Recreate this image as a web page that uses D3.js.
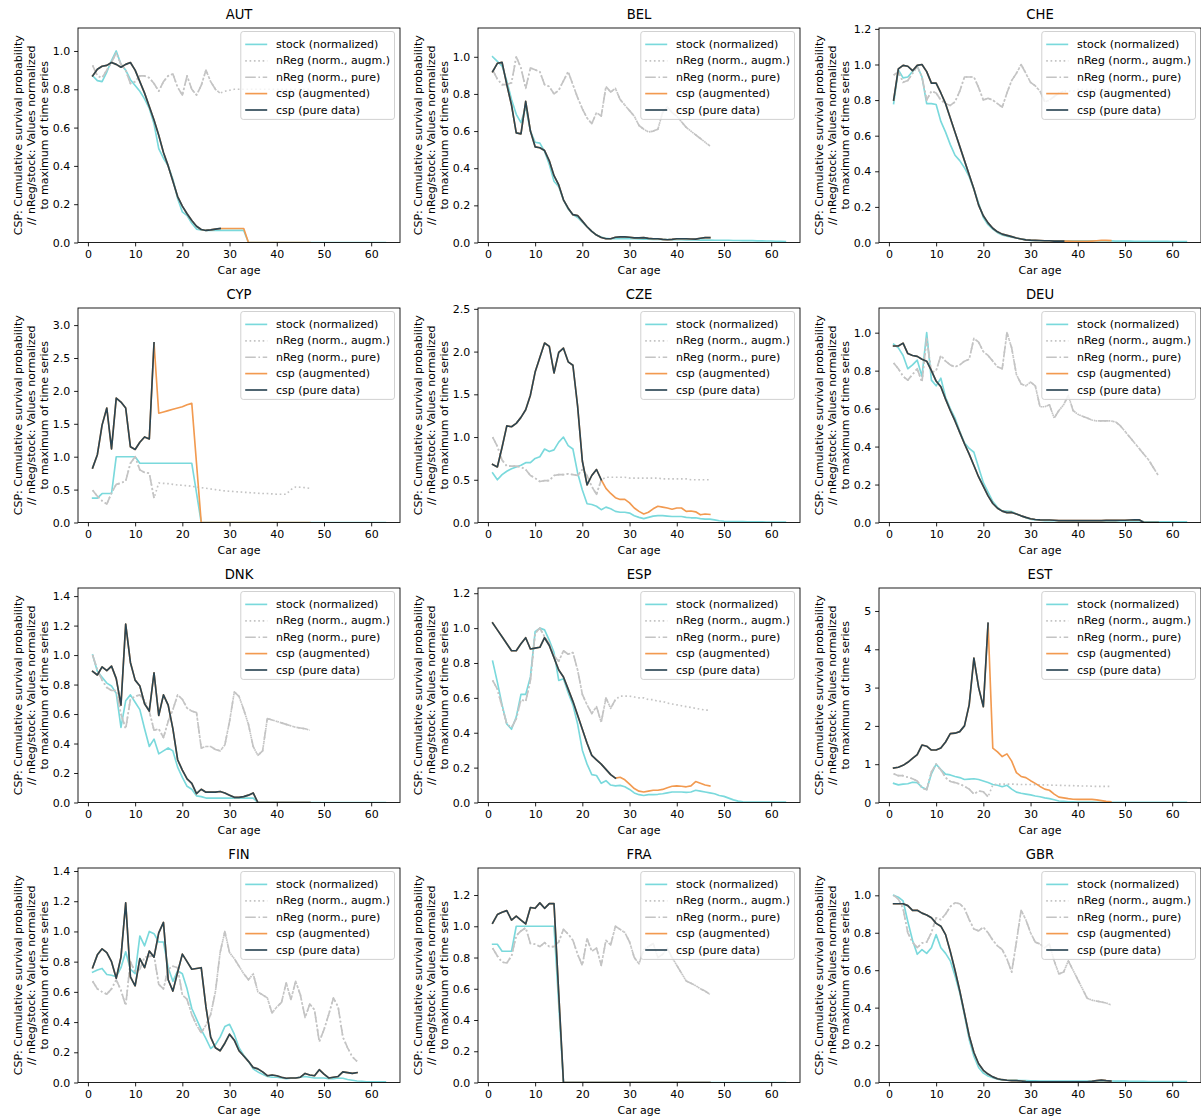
<!DOCTYPE html>
<html>
<head>
<meta charset="utf-8">
<script src="https://cdn.jsdelivr.net/npm/d3@7"></script>
<style>
  body { margin: 0; background: #fff; }
  svg { display: block; font-family: "DejaVu Sans", sans-serif; }
</style>
</head>
<body>
<svg id="chart" width="1201" height="1120"></svg>
<script>
// ---- panel setup -------------------------------------------------------
const countries = ["AUT", "BEL", "CHE", "CYP", "CZE", "DEU", "DNK", "ESP", "EST", "FIN", "FRA", "GBR"];
const yMax  = [1.12, 1.155, 1.205, 3.26, 2.51, 1.13, 1.455, 1.23, 5.6, 1.42, 1.373, 1.146];
const yStep = [0.2, 0.2, 0.2, 0.5, 0.5, 0.2, 0.2, 0.2, 1, 0.2, 0.2, 0.2];
const xTicks = [0, 10, 20, 30, 40, 50, 60];
const seriesLabels = ["stock (normalized)", "nReg (norm., augm.)", "nReg (norm., pure)", "csp (augmented)", "csp (pure data)"];
const yLabelLines = ["CSP: Cumulative survival probability", "// nReg/stock: Values normalized", "to maximum of time series"];
const xLabel = "Car age";

// ---- data: every series starts at car age 1; *Tail arrays continue the pure series ----
// AUT
const AUT_stock = [0.87,0.845,0.84,0.89,0.95,1.0,0.93,0.90,0.85,0.82, 0.79,0.75,0.70,0.62,0.49,0.44,0.40,0.33,0.23,0.16, 0.14,0.10,0.07,0.065,0.063,0.063,0.063,0.063,0.063,0.063, 0.063,0.063,0.063,0,0,0,0,0,0,0, 0,0,0,0,0,0,0,0,0,0, 0,0,0,0,0,0,0,0,0,0, 0,0,0];
const AUT_nreg = [0.925,0.87,0.86,0.90,0.94,0.99,0.93,0.90,0.83,0.84, 0.87,0.87,0.86,0.83,0.79,0.84,0.87,0.88,0.81,0.77, 0.87,0.80,0.77,0.82,0.90,0.84,0.80,0.78];
const AUT_nregTail = [0.79,0.795,0.80,0.80,0.80,0.80,0.80,0.80,0.80,0.80, 0.80,0.80,0.80,0.80,0.80,0.80,0.80,0.80,0.80];
const AUT_csp = [0.87,0.905,0.92,0.925,0.94,0.93,0.915,0.93,0.94,0.90, 0.84,0.78,0.71,0.64,0.56,0.47,0.40,0.32,0.24,0.19, 0.15,0.115,0.085,0.068,0.063,0.066,0.07,0.073];
const AUT_cspTail = [0.073,0.073,0.073,0.073,0.073,0,0,0,0,0, 0,0,0,0,0,0,0,0,0];
// BEL
const BEL_stock = [1.0,0.975,0.95,0.87,0.77,0.69,0.645,0.73,0.60,0.54, 0.535,0.49,0.42,0.33,0.30,0.23,0.18,0.15,0.135,0.11, 0.085,0.06,0.04,0.03,0.022,0.02,0.02,0.02,0.02,0.02, 0.02,0.019,0.018,0.018,0.017,0.017,0.016,0.016,0.015,0.015, 0.015,0.014,0.014,0.014,0.013,0.013,0.013,0.012,0.012,0.012, 0.012,0.011,0.011,0.01,0.01,0.01,0.009,0.009,0.008,0.008, 0.007,0.006,0.005];
const BEL_nreg = [0.93,0.88,0.85,0.85,0.86,1.0,0.94,0.83,0.94,0.93, 0.92,0.85,0.84,0.80,0.82,0.87,0.92,0.85,0.78,0.72, 0.67,0.64,0.70,0.68,0.84,0.81,0.83,0.77,0.74,0.71, 0.68,0.63,0.61,0.595,0.60,0.61,0.70,0.73,0.70,0.68, 0.65,0.62,0.60,0.58,0.56,0.54,0.52];
const BEL_nregTail = [];
const BEL_csp = [0.92,0.965,0.97,0.85,0.74,0.59,0.585,0.76,0.60,0.515, 0.51,0.495,0.44,0.36,0.31,0.23,0.185,0.15,0.145,0.115, 0.085,0.06,0.04,0.027,0.02,0.02,0.028,0.03,0.03,0.028, 0.025,0.025,0.026,0.022,0.02,0.02,0.017,0.015,0.017,0.02, 0.02,0.02,0.019,0.018,0.023,0.026,0.026];
const BEL_cspTail = [];
// CHE
const CHE_stock = [0.78,0.97,0.925,0.93,0.96,0.99,0.93,0.78,0.78,0.775, 0.68,0.62,0.55,0.49,0.46,0.42,0.37,0.30,0.22,0.14, 0.10,0.075,0.055,0.042,0.035,0.03,0.025,0.02,0.015,0.012, 0.011,0.01,0.01,0.01,0.01,0.01,0.01,0.009,0.009,0.009, 0.009,0.009,0.009,0.009,0.009,0.009,0.009,0.008,0.008,0.008, 0.008,0.007,0.007,0.007,0.007,0.006,0.006,0.006,0.006,0.005, 0.005,0.005,0.005];
const CHE_nreg = [0.94,0.96,0.90,0.91,0.95,0.99,0.93,0.80,0.85,0.84, 0.80,0.78,0.77,0.79,0.85,0.93,0.93,0.93,0.87,0.80, 0.81,0.80,0.78,0.76,0.84,0.91,0.95,1.0,0.95,0.90, 0.88,0.85,0.79,0.80,0.82,0.84,0.85];
const CHE_nregTail = [0.85,0.85,0.86,0.86,0.86,0.86,0.86,0.86,0.86,0.86];
const CHE_csp = [0.80,0.975,0.995,0.99,0.965,0.995,1.0,0.96,0.895,0.895, 0.84,0.78,0.70,0.62,0.54,0.46,0.38,0.30,0.21,0.15, 0.11,0.08,0.06,0.047,0.04,0.033,0.025,0.02,0.015,0.013, 0.012,0.011,0.01,0.01,0.008,0.008,0.008];
const CHE_cspTail = [0.008,0.007,0.006,0.006,0.006,0.008,0.01,0.012,0.012,0.011];
// CYP
const CYP_stock = [0.37,0.37,0.44,0.44,0.44,1.0,1.0,1.0,1.0,1.0, 0.90,0.90,0.90,0.90,0.90,0.90,0.90,0.90,0.90,0.90, 0.90,0.90,0.45,0,0,0,0,0,0,0, 0,0,0,0,0,0,0,0,0,0, 0,0,0,0,0,0,0,0,0,0, 0,0,0,0,0,0,0,0,0,0, 0,0,0];
const CYP_nreg = [0.49,0.40,0.33,0.28,0.45,0.58,0.60,0.63,0.90,1.0, 0.80,0.76,0.75,0.37];
const CYP_nregTail = [0.60,0.595,0.59,0.58,0.57,0.565,0.56,0.55,0.54,0.53, 0.52,0.51,0.50,0.49,0.48,0.475,0.47,0.465,0.46,0.455, 0.45,0.445,0.44,0.44,0.435,0.43,0.43,0.43,0.50,0.54, 0.535,0.53,0.52];
const CYP_csp = [0.83,1.03,1.48,1.74,1.12,1.89,1.83,1.74,1.15,1.11, 1.22,1.30,1.27,2.73];
const CYP_cspTail = [1.66,1.68,1.70,1.72,1.74,1.76,1.79,1.81,0.9,0, 0,0,0,0,0,0,0,0,0,0, 0,0,0,0,0,0,0,0,0,0, 0,0,0];
// CZE
const CZE_stock = [0.58,0.50,0.56,0.60,0.63,0.65,0.67,0.70,0.70,0.75, 0.77,0.86,0.83,0.85,0.94,1.0,0.90,0.86,0.58,0.38, 0.22,0.21,0.19,0.15,0.18,0.16,0.13,0.12,0.12,0.11, 0.08,0.06,0.045,0.06,0.075,0.08,0.08,0.075,0.07,0.07, 0.07,0.06,0.055,0.055,0.045,0.04,0.04,0.03,0.02,0.015, 0.012,0.01,0.01,0.01,0.008,0.008,0.007,0.007,0.006,0.006, 0.005,0.005,0.005];
const CZE_nreg = [1.0,0.89,0.73,0.66,0.66,0.66,0.65,0.62,0.55,0.52, 0.48,0.49,0.49,0.55,0.56,0.56,0.57,0.56,0.55,0.62, 0.55,0.42,0.33,0.50];
const CZE_nregTail = [0.53,0.53,0.53,0.53,0.53,0.52,0.52,0.52,0.52,0.52, 0.52,0.52,0.51,0.51,0.51,0.51,0.51,0.51,0.50,0.50, 0.50,0.50,0.50];
const CZE_csp = [0.68,0.65,0.88,1.13,1.12,1.16,1.23,1.32,1.49,1.76, 1.93,2.10,2.06,1.75,1.99,2.04,1.88,1.84,1.36,0.72, 0.44,0.55,0.62,0.50];
const CZE_cspTail = [0.40,0.34,0.29,0.27,0.27,0.23,0.17,0.13,0.10,0.12, 0.16,0.19,0.18,0.17,0.155,0.17,0.17,0.13,0.135,0.125, 0.09,0.10,0.095];
// DEU
const DEU_stock = [0.94,0.92,0.88,0.81,0.83,0.855,0.77,1.0,0.75,0.72, 0.76,0.66,0.60,0.55,0.48,0.42,0.39,0.37,0.29,0.21, 0.16,0.11,0.08,0.06,0.06,0.058,0.045,0.035,0.025,0.018, 0.014,0.012,0.01,0.01,0.009,0.009,0.009,0.008,0.008,0.008, 0.008,0.008,0.008,0.008,0.008,0.008,0.008,0.008,0.008,0.008, 0.008,0.008,0.008,0.005,0.004,0.004,0.003,0.003,0.003,0.003, 0.003,0.003,0.003];
const DEU_nreg = [0.84,0.81,0.77,0.75,0.78,0.81,0.74,0.97,0.79,0.80, 0.88,0.85,0.83,0.82,0.83,0.85,0.86,0.97,0.95,0.90, 0.88,0.85,0.82,0.81,1.0,0.92,0.78,0.73,0.72,0.74, 0.72,0.61,0.61,0.62,0.55,0.59,0.62,0.67,0.59,0.57, 0.56,0.55,0.54,0.535,0.535,0.535,0.535,0.53,0.51,0.48, 0.45,0.42,0.39,0.36,0.33,0.29,0.25];
const DEU_nregTail = [];
const DEU_csp = [0.93,0.93,0.945,0.89,0.88,0.875,0.86,0.85,0.80,0.745, 0.715,0.65,0.59,0.535,0.475,0.415,0.36,0.30,0.24,0.19, 0.14,0.10,0.075,0.06,0.052,0.053,0.045,0.035,0.027,0.02, 0.016,0.014,0.013,0.013,0.012,0.01,0.01,0.01,0.01,0.01, 0.01,0.01,0.01,0.01,0.01,0.011,0.011,0.011,0.012,0.012, 0.013,0.014,0.014,0,0,0,0];
const DEU_cspTail = [];
// DNK
const DNK_stock = [1.0,0.89,0.85,0.81,0.79,0.74,0.51,0.69,0.73,0.68, 0.63,0.50,0.38,0.43,0.33,0.35,0.37,0.35,0.24,0.17, 0.11,0.09,0.045,0.04,0.03,0.03,0.03,0.03,0.03,0.03, 0.03,0.03,0.03,0.03,0.03,0,0,0,0,0, 0,0,0,0,0,0,0,0,0,0, 0,0,0,0,0,0,0,0,0,0, 0,0,0];
const DNK_nreg = [1.0,0.90,0.83,0.78,0.76,0.76,0.60,0.50,0.70,0.72, 0.73,0.69,0.62,0.49,0.50,0.44,0.55,0.63,0.73,0.70, 0.64,0.62,0.61,0.37,0.38,0.38,0.36,0.35,0.39,0.55, 0.75,0.72,0.63,0.53,0.38,0.32,0.35,0.57,0.56,0.55, 0.54,0.53,0.52,0.51,0.505,0.50,0.49];
const DNK_nregTail = [];
const DNK_csp = [0.89,0.865,0.92,0.895,0.925,0.84,0.66,1.21,0.95,0.83, 0.79,0.67,0.62,0.88,0.59,0.73,0.66,0.50,0.29,0.22, 0.16,0.13,0.06,0.09,0.07,0.07,0.07,0.075,0.065,0.05, 0.035,0.035,0.04,0.05,0.065,0,0,0,0,0, 0,0,0,0,0,0,0];
const DNK_cspTail = [];
// ESP
const ESP_stock = [0.81,0.69,0.56,0.45,0.42,0.49,0.62,0.62,0.72,0.98, 1.0,0.99,0.93,0.86,0.70,0.71,0.63,0.56,0.45,0.30, 0.22,0.16,0.155,0.11,0.125,0.10,0.095,0.098,0.09,0.075, 0.055,0.045,0.04,0.045,0.045,0.047,0.05,0.055,0.06,0.06, 0.06,0.058,0.06,0.07,0.065,0.06,0.055,0.05,0.04,0.035, 0.025,0.015,0.008,0.004,0.002,0.002,0.002,0.002,0.002,0.002, 0.002,0.002,0.002];
const ESP_nreg = [0.70,0.65,0.55,0.45,0.43,0.48,0.59,0.58,0.70,0.97, 1.0,0.95,0.91,0.84,0.81,0.87,0.85,0.86,0.76,0.62, 0.56,0.51,0.55,0.46,0.60,0.54,0.59];
const ESP_nregTail = [0.61,0.61,0.61,0.605,0.60,0.60,0.59,0.59,0.58,0.58, 0.57,0.565,0.56,0.555,0.55,0.545,0.54,0.535,0.53,0.53];
const ESP_csp = [1.03,0.99,0.95,0.91,0.87,0.87,0.91,0.945,0.88,0.885, 0.89,0.945,0.90,0.83,0.76,0.72,0.65,0.58,0.50,0.42, 0.34,0.27,0.245,0.22,0.19,0.16,0.14];
const ESP_cspTail = [0.145,0.13,0.105,0.08,0.065,0.06,0.065,0.07,0.07,0.075, 0.085,0.093,0.095,0.093,0.09,0.095,0.12,0.11,0.10,0.095];
// EST
const EST_stock = [0.50,0.46,0.48,0.49,0.53,0.52,0.40,0.34,0.75,1.0, 0.86,0.74,0.72,0.68,0.65,0.60,0.61,0.62,0.60,0.56, 0.52,0.47,0.45,0.41,0.45,0.35,0.27,0.24,0.22,0.20, 0.17,0.15,0.12,0.10,0.07,0.04,0.03,0.02,0.015,0.01, 0.01,0.008,0.008,0.007,0.007,0.006,0.006,0.006,0.005,0.005, 0.005,0.005,0.005,0.005,0.005,0.005,0.005,0.005,0.005,0.005, 0.005,0.005,0.005];
const EST_nreg = [0.75,0.70,0.70,0.66,0.62,0.56,0.38,0.33,0.80,1.0, 0.85,0.65,0.55,0.52,0.48,0.42,0.35,0.22,0.30,0.28, 0.15];
const EST_nregTail = [0.46,0.48,0.48,0.48,0.48,0.475,0.47,0.47,0.47,0.465, 0.46,0.46,0.455,0.45,0.45,0.445,0.44,0.44,0.435,0.43, 0.43,0.425,0.42,0.42,0.42,0.42];
const EST_csp = [0.90,0.92,0.97,1.05,1.15,1.25,1.50,1.47,1.37,1.37, 1.42,1.58,1.80,1.81,1.85,2.00,2.55,3.77,3.00,2.50, 4.68];
const EST_cspTail = [1.42,1.32,1.20,1.27,1.08,0.78,0.68,0.65,0.57,0.50, 0.42,0.35,0.32,0.22,0.14,0.12,0.10,0.085,0.08,0.08, 0.08,0.08,0.07,0.05,0.03,0.02];
// FIN
const FIN_stock = [0.73,0.745,0.755,0.715,0.71,0.70,0.76,0.865,0.75,0.72, 0.97,0.905,1.0,0.985,0.93,0.93,0.76,0.67,0.74,0.72, 0.62,0.49,0.42,0.35,0.29,0.225,0.25,0.30,0.37,0.385, 0.32,0.23,0.18,0.14,0.09,0.07,0.055,0.04,0.035,0.035, 0.03,0.025,0.028,0.03,0.035,0.04,0.035,0.03,0.03,0.03, 0.025,0.025,0.03,0.028,0.02,0.015,0.01,0.008,0.005,0.005, 0.005,0.005,0.005];
const FIN_nreg = [0.67,0.62,0.60,0.585,0.62,0.68,0.61,0.51,0.80,0.73, 0.75,0.83,0.835,0.84,0.65,0.62,0.75,0.77,0.76,0.58, 0.55,0.45,0.38,0.33,0.38,0.45,0.60,0.86,1.0,0.86, 0.82,0.77,0.72,0.68,0.72,0.60,0.58,0.56,0.46,0.50, 0.53,0.66,0.55,0.67,0.58,0.43,0.52,0.48,0.27,0.35, 0.45,0.56,0.50,0.30,0.23,0.17,0.14];
const FIN_nregTail = [];
const FIN_csp = [0.76,0.845,0.885,0.86,0.80,0.69,0.83,1.19,0.70,0.64, 0.82,0.76,0.87,0.83,0.99,1.06,0.68,0.605,0.73,0.85, 0.80,0.75,0.755,0.76,0.50,0.30,0.23,0.21,0.26,0.32, 0.28,0.21,0.175,0.14,0.10,0.09,0.07,0.045,0.05,0.045, 0.035,0.028,0.03,0.03,0.035,0.06,0.05,0.045,0.085,0.055, 0.03,0.035,0.04,0.07,0.065,0.06,0.065];
const FIN_cspTail = [];
// FRA
const FRA_stock = [0.885,0.885,0.84,0.84,0.84,1.0,1.0,1.0,1.0,1.0, 1.0,1.0,1.0,1.0,0.5,0,0,0,0,0, 0,0,0,0,0,0,0,0,0,0, 0,0,0,0,0,0,0,0,0,0, 0,0,0,0,0,0,0,0,0,0, 0,0,0,0,0,0,0,0,0,0, 0,0,0];
const FRA_nreg = [0.86,0.81,0.77,0.765,0.81,0.94,0.97,0.99,0.89,0.885, 0.87,0.895,0.87,0.87,0.90,0.98,0.95,0.91,0.82,0.75, 0.92,0.84,0.86,0.75,0.91,0.88,1.0,0.98,0.96,0.90, 0.80,0.76,0.85,0.87,0.89,0.80,0.82,0.86,0.80,0.75, 0.70,0.65,0.635,0.62,0.60,0.585,0.565];
const FRA_nregTail = [];
const FRA_csp = [1.02,1.075,1.09,1.10,1.04,1.065,1.04,1.015,1.12,1.115, 1.15,1.115,1.145,1.145,0.57,0,0,0,0,0, 0,0,0,0,0,0,0,0,0,0, 0,0,0,0,0,0,0,0,0,0, 0,0,0,0,0,0,0];
const FRA_cspTail = [];
// GBR
const GBR_stock = [1.0,0.99,0.97,0.86,0.76,0.685,0.71,0.69,0.72,0.79, 0.72,0.69,0.65,0.57,0.48,0.36,0.23,0.14,0.08,0.05, 0.035,0.025,0.018,0.014,0.012,0.012,0.011,0.01,0.01,0.009, 0.009,0.008,0.008,0.008,0.008,0.008,0.008,0.008,0.008,0.008, 0.008,0.008,0.008,0.008,0.008,0.008,0.008,0.007,0.007,0.007, 0.006,0.006,0.006,0.006,0.005,0.005,0.005,0.005,0.005,0.005, 0.005,0.005,0.005];
const GBR_nreg = [1.0,0.98,0.93,0.80,0.75,0.72,0.745,0.75,0.80,0.88, 0.87,0.90,0.94,0.96,0.955,0.93,0.87,0.82,0.81,0.83, 0.80,0.76,0.73,0.71,0.66,0.59,0.75,0.92,0.87,0.80, 0.75,0.74,0.72,0.74,0.65,0.58,0.59,0.65,0.60,0.55, 0.50,0.45,0.44,0.435,0.43,0.425,0.415];
const GBR_nregTail = [];
const GBR_csp = [0.955,0.955,0.955,0.945,0.92,0.92,0.905,0.895,0.88,0.85, 0.835,0.79,0.70,0.60,0.49,0.37,0.25,0.16,0.10,0.065, 0.045,0.03,0.02,0.015,0.012,0.01,0.01,0.008,0.005,0.004, 0.004,0.004,0.004,0.004,0.004,0.004,0.004,0.004,0.004,0.004, 0.004,0.004,0.006,0.01,0.013,0.01,0.008];
const GBR_cspTail = [];

// lookup table built from the arrays above
const panelData = {
  AUT: [AUT_stock, AUT_nreg, AUT_nregTail, AUT_csp, AUT_cspTail],
  BEL: [BEL_stock, BEL_nreg, BEL_nregTail, BEL_csp, BEL_cspTail],
  CHE: [CHE_stock, CHE_nreg, CHE_nregTail, CHE_csp, CHE_cspTail],
  CYP: [CYP_stock, CYP_nreg, CYP_nregTail, CYP_csp, CYP_cspTail],
  CZE: [CZE_stock, CZE_nreg, CZE_nregTail, CZE_csp, CZE_cspTail],
  DEU: [DEU_stock, DEU_nreg, DEU_nregTail, DEU_csp, DEU_cspTail],
  DNK: [DNK_stock, DNK_nreg, DNK_nregTail, DNK_csp, DNK_cspTail],
  ESP: [ESP_stock, ESP_nreg, ESP_nregTail, ESP_csp, ESP_cspTail],
  EST: [EST_stock, EST_nreg, EST_nregTail, EST_csp, EST_cspTail],
  FIN: [FIN_stock, FIN_nreg, FIN_nregTail, FIN_csp, FIN_cspTail],
  FRA: [FRA_stock, FRA_nreg, FRA_nregTail, FRA_csp, FRA_cspTail],
  GBR: [GBR_stock, GBR_nreg, GBR_nregTail, GBR_csp, GBR_cspTail]
};

// ---- styles ------------------------------------------------------------
const LW = 1.65;
const styles = [
  { color: "#7ad9dc", dash: null },                                       // stock
  { color: "#c4c4c4", dash: `${LW},${2.7}` },                             // nReg augmented (dotted)
  { color: "#c4c4c4", dash: `${6.4 * LW},${1.6 * LW},${LW},${1.6 * LW}` },  // nReg pure (dash-dot)
  { color: "#f29a50", dash: null },                                       // csp augmented
  { color: "#2a4553", dash: null }                                        // csp pure
];

const svg = d3.select("#chart");
const colLeft = [78, 478, 879];
const colWidth = 322;
const rowTop = [28, 308, 588, 868];
const rowHeight = 214.5;
const xDomain = [-2.1, 66.1];
const tickLen = 3.9, tickPad = 3.9;
const fontTick = 11, fontTitle = 13.2;

const toPoints = arr => arr.map((v, i) => [i + 1, v]);

countries.forEach((country, i) => {
  const col = i % 3, row = Math.floor(i / 3);
  const left = colLeft[col], top = rowTop[row];
  const right = left + colWidth, bottom = top + rowHeight;

  const x = d3.scaleLinear().domain(xDomain).range([left, right]);
  const y = d3.scaleLinear().domain([0, yMax[i]]).range([bottom, top]);

  const [stock, nreg, nregTail, csp, cspTail] = panelData[country];
  const series = [
    toPoints(stock),
    toPoints(nreg.concat(nregTail)),
    toPoints(nreg),
    toPoints(csp.concat(cspTail)),
    toPoints(csp)
  ];

  const g = svg.append("g");
  const clipId = "clip-" + country;
  g.append("clipPath").attr("id", clipId)
    .append("rect").attr("x", left).attr("y", top)
    .attr("width", colWidth).attr("height", rowHeight);

  const line = d3.line().x(d => x(d[0])).y(d => y(d[1]));
  const lines = g.append("g").attr("clip-path", `url(#${clipId})`);
  series.forEach((pts, k) => {
    lines.append("path")
      .attr("d", line(pts))
      .attr("fill", "none")
      .attr("stroke", styles[k].color)
      .attr("stroke-width", LW)
      .attr("stroke-linejoin", "round")
      .attr("stroke-linecap", styles[k].dash ? "butt" : "square")
      .attr("stroke-dasharray", styles[k].dash);
  });

  // axes
  const yTicks = d3.range(0, yMax[i] + 1e-9, yStep[i]).map(v => +v.toFixed(3));
  const yFmt = yStep[i] >= 1 ? d3.format("d") : d3.format(".1f");

  const xAxis = d3.axisBottom(x).tickValues(xTicks).tickSize(tickLen).tickPadding(tickPad).tickFormat(d3.format("d"));
  const yAxis = d3.axisLeft(y).tickValues(yTicks).tickSize(tickLen).tickPadding(tickPad).tickFormat(yFmt);

  const gx = g.append("g").attr("transform", `translate(0,${bottom})`).call(xAxis);
  const gy = g.append("g").attr("transform", `translate(${left},0)`).call(yAxis);
  [gx, gy].forEach(ax => {
    ax.select(".domain").remove();
    ax.selectAll(".tick line").attr("stroke", "#000").attr("stroke-width", 0.88);
    ax.selectAll(".tick text").attr("font-size", fontTick).attr("fill", "#000")
      .attr("font-family", "DejaVu Sans, sans-serif");
  });

  // frame
  g.append("rect").attr("x", left).attr("y", top)
    .attr("width", colWidth).attr("height", rowHeight)
    .attr("fill", "none").attr("stroke", "#000").attr("stroke-width", 0.88);

  // title
  g.append("text").attr("x", (left + right) / 2).attr("y", top - 9)
    .attr("text-anchor", "middle").attr("font-size", fontTitle).text(country);

  // x label
  g.append("text").attr("x", (left + right) / 2).attr("y", bottom + 31)
    .attr("text-anchor", "middle").attr("font-size", fontTick).text(xLabel);

  // y label (three lines)
  const cy = (top + bottom) / 2;
  yLabelLines.forEach((txt, j) => {
    const lx = left - 60 + j * 13.2;
    g.append("text")
      .attr("transform", `translate(${lx},${cy}) rotate(-90)`)
      .attr("text-anchor", "middle")
      .attr("dominant-baseline", "central")
      .attr("font-size", fontTick)
      .text(txt);
  });

  // legend
  const lg = g.append("g");
  const box = lg.append("rect");
  const rowGap = 16.4;
  const pad = 4.4, handle = 22, handleGap = 8.8;
  const texts = [];
  seriesLabels.forEach((lab, k) => {
    texts.push(lg.append("text").attr("font-size", fontTick).attr("dominant-baseline", "central").text(lab));
  });
  const maxW = d3.max(texts, t => t.node().getComputedTextLength());
  const boxW = pad + handle + handleGap + maxW + pad;
  const boxH = pad + rowGap * 5 + 1.5;
  const bx = right - 5.5 - boxW, by = top + 3.5;
  box.attr("x", bx).attr("y", by).attr("width", boxW).attr("height", boxH)
    .attr("rx", 2.5).attr("fill", "#fff").attr("fill-opacity", 0.8)
    .attr("stroke", "#cccccc").attr("stroke-width", 0.9);
  seriesLabels.forEach((lab, k) => {
    const ry = by + pad + 8.5 + k * rowGap;
    lg.append("line")
      .attr("x1", bx + pad).attr("x2", bx + pad + handle)
      .attr("y1", ry).attr("y2", ry)
      .attr("stroke", styles[k].color).attr("stroke-width", LW)
      .attr("stroke-dasharray", styles[k].dash);
    texts[k].attr("x", bx + pad + handle + handleGap).attr("y", ry);
  });
});
</script>
</body>
</html>
